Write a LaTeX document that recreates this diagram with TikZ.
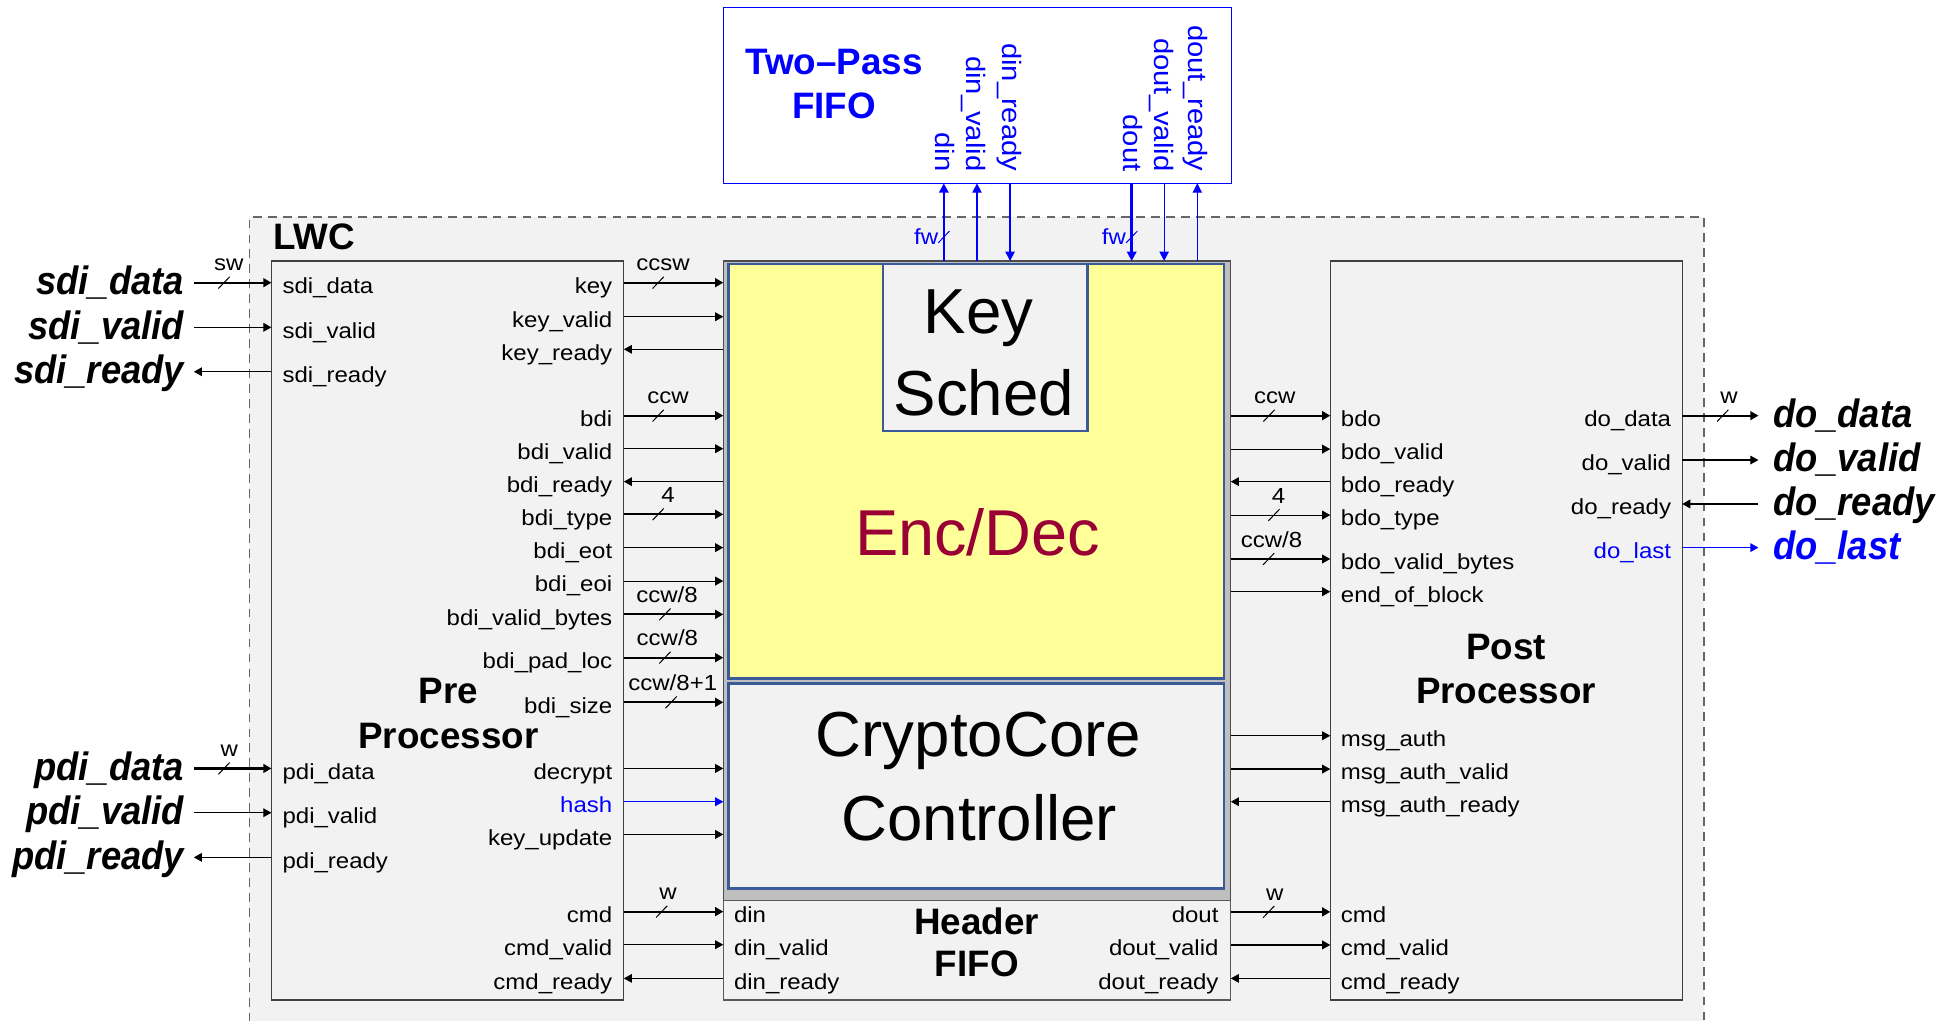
\documentclass[tikz,border=0pt]{standalone}
\usepackage{fontspec}
\setmainfont{Liberation Sans}
\newfontfamily\labfont[FakeStretch=1.1]{Liberation Sans}
\newfontfamily\extfont[FakeStretch=0.92]{Liberation Sans}
\usetikzlibrary{arrows.meta}

\definecolor{panel}{HTML}{F2F2F2}
\definecolor{corefill}{HTML}{BFBFBF}
\definecolor{encfill}{HTML}{FFFF99}
\definecolor{encline}{HTML}{3A5A98}
\definecolor{enctext}{HTML}{990033}
\definecolor{sigblue}{HTML}{0000FF}
\definecolor{dashgray}{HTML}{666666}

% horizontal wire between two node borders at height #4
\newcommand\wire[4]{\draw[#1] (#2 |- 0,#4) -- (#3 |- 0,#4);}
% vertical wire between two node borders at abscissa #4
\newcommand\vwire[4]{\draw[#1] (#4,0 |- #2) -- (#4,0 |- #3);}
% bus-width mark: slash on the wire plus its width label
\newcommand\busmark[6][]{%
  \draw[slashline,#1] (#3-4.5,#5+4.7) -- (#3+4.5,#5-4.7);
  \node[lab,anchor=base,#1] (#2) at (#4,#5-9.5) {#6};}
% port names inside a block
\newcommand\pinR[5][]{\node[lab,anchor=base east,#1] (#2) at (#3,#4+8.6) {#5};}
\newcommand\pinL[5][]{\node[lab,anchor=base west,#1] (#2) at (#3,#4+8.6) {#5};}
% top-level port names outside LWC
\newcommand\extR[5][]{\node[extlab,anchor=base east,#1] (#2) at (#3,#4+9.5) {#5};}
\newcommand\extL[5][]{\node[extlab,anchor=base west,#1] (#2) at (#3,#4+9.5) {#5};}

\begin{document}
\begin{tikzpicture}[x=1pt,y=-1pt,
  lab/.style={font=\labfont\fontsize{17.5}{20}\selectfont,inner sep=0pt,outer sep=0pt},
  rlab/.style={font=\labfont\fontsize{21.3}{24}\selectfont,text=sigblue,inner sep=0pt,
    text height=15pt,text depth=4.5pt,rotate=-90,anchor=east},
  extlab/.style={font=\extfont\bfseries\itshape\fontsize{31.7}{36}\selectfont,inner sep=0pt},
  title/.style={font=\bfseries\fontsize{29.5}{34}\selectfont,inner sep=0pt,anchor=base},
  bigname/.style={font=\fontsize{51}{56}\selectfont,inner sep=0pt,anchor=base},
  blockbox/.style={rectangle,draw=black!75,fill=panel,line width=1pt,inner sep=0pt,outer sep=0pt},
  innerbox/.style={rectangle,draw=encline,line width=2pt,inner sep=0pt,outer sep=0pt},
  tip/.style={-{Triangle[length=6.5pt,width=7pt]}},
  btip/.style={-{Triangle[length=7.5pt,width=7.5pt]}},
  sig/.style={line width=0.9pt,tip},
  bus/.style={line width=1.8pt,tip},
  bsig/.style={sigblue,line width=1pt,btip},
  bbus/.style={sigblue,line width=2pt,btip},
  slashline/.style={line width=0.8pt}]

\useasboundingbox (0,0) rectangle (1568,818);

% LWC boundary
\begin{scope}
  \clip (0,0) rectangle (1568,818);
  \node[rectangle,draw=dashgray,fill=panel,line width=1.2pt,dash pattern=on 7pt off 5pt,
        minimum width=1166pt,minimum height=666pt,inner sep=0pt] (lwc) at (783,507) {};
\end{scope}
\node[title,anchor=base west] (lwcname) at (219,200.4) {LWC};

% blocks
\node[rectangle,draw=sigblue,line width=1pt,minimum width=407pt,minimum height=141pt,
      inner sep=0pt,outer sep=0pt] (tpf) at (783.5,76.5) {};
\node[blockbox,minimum width=282.5pt,minimum height=592.5pt] (pre) at (358.85,505.45) {};
\node[blockbox,minimum width=282.1pt,minimum height=592.5pt] (post) at (1207.45,505.45) {};
\node[rectangle,draw=black!70,fill=corefill,line width=1pt,minimum width=406.9pt,
      minimum height=512.8pt,inner sep=0pt,outer sep=0pt] (core) at (783.25,465.6) {};
\node[innerbox,fill=encfill,minimum width=397.3pt,minimum height=332.2pt] (encdec) at (782.65,377.7) {};
\node[innerbox,fill=panel,minimum width=397.3pt,minimum height=164.6pt] (cc) at (782.65,630.1) {};
\node[innerbox,fill=panel,minimum width=164pt,minimum height=133.9pt] (ks) at (789.7,278.55) {};
\node[blockbox,draw=black!65,minimum width=406.9pt,minimum height=79.7pt] (hf) at (783.25,761.85) {};

% block names
\node[title,text=sigblue] (tpfA) at (668.5,60) {Two–Pass};
\node[title,text=sigblue] (tpfB) at (668.5,94.7) {FIFO};
\node[title] (preA) at (359.4,563.7) {Pre};
\node[title] (preB) at (359.4,599.7) {Processor};
\node[title] (postA) at (1207.3,529) {Post};
\node[title] (postB) at (1207.3,563.6) {Processor};
\node[title] (hfA) at (783,749.4) {Header};
\node[title] (hfB) at (783,782.8) {FIFO};
\node[bigname] (ksA) at (784.5,267.2) {Key};
\node[bigname] (ksB) at (788.7,332.7) {Sched};
\node[bigname,text=enctext,font=\fontsize{52}{56}\selectfont] (edname) at (783.8,445) {Enc/Dec};
\node[bigname] (ccA) at (784.4,606.6) {CryptoCore};
\node[bigname] (ccB) at (785,673.4) {Controller};

% Two-Pass FIFO ports
\node[rlab] (tp-din) at (755,137.6) {din};
\node[rlab] (tp-dinv) at (780,137.6) {din\_valid};
\node[rlab] (tp-dinr) at (808.5,137.6) {din\_ready};
\node[rlab] (tp-dout) at (906,137.6) {dout};
\node[rlab] (tp-doutv) at (931,137.6) {dout\_valid};
\node[rlab] (tp-doutr) at (958,137.6) {dout\_ready};

\vwire{bbus}{core.north}{tpf.south}{756.6}
\vwire{bsig}{core.north}{tpf.south}{783.2}
\vwire{bsig}{tpf.south}{core.north}{809.7}
\vwire{bbus}{tpf.south}{core.north}{907.2}
\vwire{bsig}{tpf.south}{core.north}{933.2}
\vwire{bsig}{core.north}{tpf.south}{959.8}
\draw[slashline,sigblue] (752.1,194.7) -- (761.1,185.3);
\draw[slashline,sigblue] (902.7,194.7) -- (911.7,185.3);
\node[lab,text=sigblue,anchor=base east] (fwA) at (752,196) {fw};
\node[lab,text=sigblue,anchor=base east] (fwB) at (902.5,196) {fw};

% free ends of the top-level ports
\coordinate (extW) at (155.4,0);
\coordinate (extE) at (1409.6,0);

% top-level inputs and outputs, left
\extR{x-sdid}{147.7}{226.6}{sdi\_data}
\extR{x-sdiv}{147.7}{262.4}{sdi\_valid}
\extR{x-sdir}{147.7}{298}{sdi\_ready}
\extR{x-pdid}{147.7}{616}{pdi\_data}
\extR{x-pdiv}{147.7}{651.5}{pdi\_valid}
\extR{x-pdir}{147.7}{687.3}{pdi\_ready}
\wire{bus}{extW}{pre.west}{226.6}
\wire{sig}{extW}{pre.west}{262.4}
\wire{sig}{pre.west}{extW}{298}
\wire{bus}{extW}{pre.west}{616}
\wire{sig}{extW}{pre.west}{651.5}
\wire{sig}{pre.west}{extW}{687.3}
\busmark{bw-sdi}{179.6}{183.5}{226.6}{sw}
\busmark{bw-pdi}{179.6}{183.8}{616}{w}

% top-level outputs, right
\extL{x-dod}{1421.1}{333.2}{do\_data}
\extL{x-dov}{1421.1}{368.8}{do\_valid}
\extL{x-dor}{1421.1}{404}{do\_ready}
\extL[text=sigblue]{x-dol}{1421.1}{439}{do\_last}
\wire{bus}{post.east}{extE}{333.2}
\wire{sig}{post.east}{extE}{368.8}
\wire{sig}{extE}{post.east}{404}
\wire{sig,sigblue}{post.east}{extE}{439}
\busmark{bw-do}{1381}{1386}{333.2}{w}

% Pre Processor ports
\pinL{p-sdid}{226.5}{226.6}{sdi\_data}
\pinL{p-sdiv}{226.5}{262.4}{sdi\_valid}
\pinL{p-sdir}{226.5}{298}{sdi\_ready}
\pinL{p-pdid}{226.5}{616}{pdi\_data}
\pinL{p-pdiv}{226.5}{651.5}{pdi\_valid}
\pinL{p-pdir}{226.5}{687.3}{pdi\_ready}
\pinR{p-key}{490.8}{226.6}{key}
\pinR{p-keyv}{490.8}{253.9}{key\_valid}
\pinR{p-keyr}{490.8}{280}{key\_ready}
\pinR{p-bdi}{490.8}{333.2}{bdi}
\pinR{p-bdiv}{490.8}{359.7}{bdi\_valid}
\pinR{p-bdir}{490.8}{386.1}{bdi\_ready}
\pinR{p-type}{490.8}{412.3}{bdi\_type}
\pinR{p-eot}{490.8}{439}{bdi\_eot}
\pinR{p-eoi}{490.8}{465.8}{bdi\_eoi}
\pinR{p-vb}{490.8}{492.5}{bdi\_valid\_bytes}
\pinR{p-pad}{490.8}{527.2}{bdi\_pad\_loc}
\pinR{p-size}{490.8}{563}{bdi\_size}
\pinR{p-dec}{490.8}{616}{decrypt}
\pinR[text=sigblue]{p-hash}{490.8}{642.7}{hash}
\pinR{p-ku}{490.8}{668.9}{key\_update}
\pinR{p-cmd}{490.8}{730.8}{cmd}
\pinR{p-cmdv}{490.8}{757.3}{cmd\_valid}
\pinR{p-cmdr}{490.8}{784.3}{cmd\_ready}

% Pre Processor to CryptoCore and Header FIFO
\wire{bus}{pre.east}{core.west}{226.6}
\wire{sig}{pre.east}{core.west}{253.9}
\wire{sig}{core.west}{pre.east}{280}
\wire{bus}{pre.east}{core.west}{333.2}
\wire{sig}{pre.east}{core.west}{359.7}
\wire{sig}{core.west}{pre.east}{386.1}
\wire{bus}{pre.east}{core.west}{412.3}
\wire{sig}{pre.east}{core.west}{439}
\wire{sig}{pre.east}{core.west}{465.8}
\wire{bus}{pre.east}{core.west}{492.5}
\wire{bus}{pre.east}{core.west}{527.2}
\wire{bus}{pre.east}{core.west}{563}
\wire{sig}{pre.east}{core.west}{616}
\wire{sig,sigblue}{pre.east}{core.west}{642.7}
\wire{sig}{pre.east}{core.west}{668.9}
\wire{bus}{pre.east}{hf.west}{730.8}
\wire{sig}{pre.east}{hf.west}{757.3}
\wire{sig}{hf.west}{pre.east}{784.3}
\busmark{bw-key}{527.6}{531.5}{226.6}{ccsw}
\busmark{bw-bdi}{527.6}{535.5}{333.2}{ccw}
\busmark{bw-type}{527.6}{535.5}{412.3}{4}
\busmark{bw-vb}{533}{534.7}{492.5}{ccw/8}
\busmark{bw-pad}{533}{535}{527.2}{ccw/8}
\busmark{bw-size}{538}{539.3}{563}{ccw/8+1}
\busmark{bw-cmd}{530.4}{535.5}{730.8}{w}

% Header FIFO ports
\pinL{h-din}{588.4}{730.8}{din}
\pinL{h-dinv}{588.4}{757.3}{din\_valid}
\pinL{h-dinr}{588.4}{784.3}{din\_ready}
\pinR{h-dout}{976.8}{730.8}{dout}
\pinR{h-doutv}{976.8}{757.3}{dout\_valid}
\pinR{h-doutr}{976.8}{784.3}{dout\_ready}

% Post Processor ports
\pinL{q-bdo}{1074.9}{333.2}{bdo}
\pinL{q-bdov}{1074.9}{360}{bdo\_valid}
\pinL{q-bdor}{1074.9}{386.1}{bdo\_ready}
\pinL{q-type}{1074.9}{412.9}{bdo\_type}
\pinL{q-vb}{1074.9}{448.1}{bdo\_valid\_bytes}
\pinL{q-eob}{1074.9}{474.3}{end\_of\_block}
\pinL{q-ma}{1074.9}{589.8}{msg\_auth}
\pinL{q-mav}{1074.9}{616.5}{msg\_auth\_valid}
\pinL{q-mar}{1074.9}{642.7}{msg\_auth\_ready}
\pinL{q-cmd}{1074.9}{731}{cmd}
\pinL{q-cmdv}{1074.9}{757.5}{cmd\_valid}
\pinL{q-cmdr}{1074.9}{784.3}{cmd\_ready}
\pinR{q-dod}{1339.6}{333.2}{do\_data}
\pinR{q-dov}{1339.6}{368.8}{do\_valid}
\pinR{q-dor}{1339.6}{404}{do\_ready}
\pinR[text=sigblue]{q-dol}{1339.6}{439}{do\_last}

% CryptoCore and Header FIFO to Post Processor
\wire{bus}{core.east}{post.west}{333.2}
\wire{sig}{core.east}{post.west}{360}
\wire{sig}{post.west}{core.east}{386.1}
\wire{sig}{core.east}{post.west}{412.9}
\wire{sig}{core.east}{post.west}{448.1}
\wire{sig}{core.east}{post.west}{474.3}
\wire{sig}{core.east}{post.west}{589.8}
\wire{sig}{core.east}{post.west}{616.5}
\wire{sig}{post.west}{core.east}{642.7}
\wire{bus}{hf.east}{post.west}{731}
\wire{sig}{hf.east}{post.west}{757.5}
\wire{sig}{post.west}{hf.east}{784.3}
\busmark{bw-bdo}{1017.3}{1021.9}{333.2}{ccw}
\busmark{bw-otype}{1021.2}{1025}{412.9}{4}
\busmark{bw-ovb}{1017}{1019.3}{448.1}{ccw/8}
\busmark{bw-ocmd}{1017}{1021.9}{731}{w}

\end{tikzpicture}
\end{document}
